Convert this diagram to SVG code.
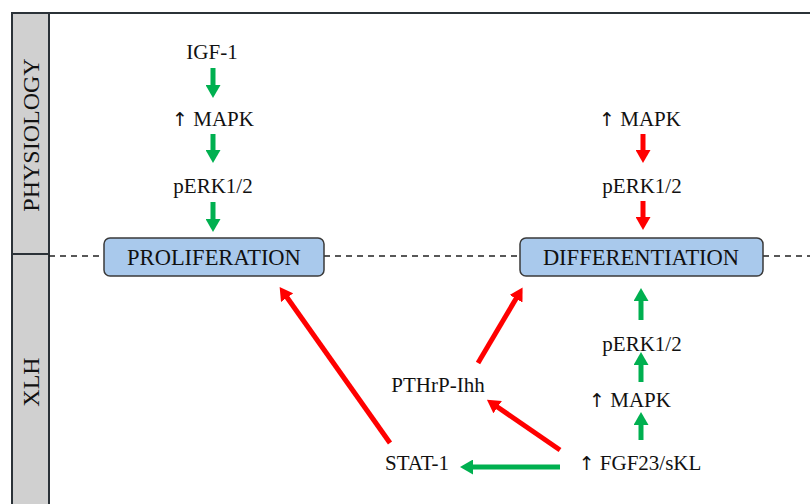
<svg xmlns="http://www.w3.org/2000/svg" width="810" height="504" viewBox="0 0 810 504">
<style>
.t{font-family:"Liberation Serif","Times New Roman",serif;font-size:21px;fill:#111;text-anchor:middle}
.bt{font-family:"Liberation Serif","Times New Roman",serif;font-size:22.5px;fill:#111;text-anchor:middle}
.ar{font-family:"DejaVu Sans",sans-serif;font-size:19px;fill:#111}
.side{font-family:"Liberation Serif","Times New Roman",serif;font-size:24px;fill:#111;text-anchor:middle}
.box{fill:#a9c9ec;stroke:#3a3a3a;stroke-width:1.5}
.g{stroke:#00b050;stroke-width:5;fill:none;marker-end:url(#gh)}
.r{stroke:#ff0000;stroke-width:5;fill:none;marker-end:url(#rh)}
.frame{stroke:#2b3238;stroke-width:2;fill:none}
.dash{stroke:#222;stroke-width:1.5;stroke-dasharray:6 5;fill:none}
</style>
<defs>
<marker id="gh" markerUnits="userSpaceOnUse" viewBox="0 0 13 15" markerWidth="13" markerHeight="15" refX="2" refY="7.5" orient="auto"><path d="M0,0 L13,7.5 L0,15 z" fill="#00b050"/></marker>
<marker id="rh" markerUnits="userSpaceOnUse" viewBox="0 0 13 15" markerWidth="13" markerHeight="15" refX="2" refY="7.5" orient="auto"><path d="M0,0 L13,7.5 L0,15 z" fill="#ff0000"/></marker>
</defs>
<rect width="810" height="504" fill="#fff"/>
<g id="frame">
<rect x="12" y="13" width="37" height="492" fill="#d0d0d0"/>
<path class="frame" d="M12,505 V13 H810 M49,13 V505 M12,254 H49"/>
<path class="dash" d="M49,256 H104 M324,256 H520 M763,256 H810"/>
<text class="side" transform="translate(39,135) rotate(-90)">PHYSIOLOGY</text>
<text class="side" transform="translate(39,382) rotate(-90)">XLH</text>
</g>
<g id="connectors">
<line class="g" x1="213" y1="68" x2="213" y2="87"/>
<line class="g" x1="213" y1="134" x2="213" y2="152"/>
<line class="g" x1="213" y1="202" x2="213" y2="221"/>
<line class="r" x1="643" y1="134" x2="643" y2="152"/>
<line class="r" x1="643" y1="201" x2="643" y2="219"/>
<line class="g" x1="641" y1="320" x2="641" y2="299"/>
<line class="g" x1="641" y1="382" x2="641" y2="363"/>
<line class="g" x1="641" y1="440" x2="641" y2="423"/>
<line class="g" x1="560" y1="467" x2="471" y2="467"/>
<line class="r" x1="560" y1="450" x2="496" y2="406"/>
<line class="r" x1="478" y1="363" x2="517" y2="297"/>
<line class="r" x1="390" y1="443" x2="286" y2="296"/>
</g>
<g id="igf1"><text class="t" x="212" y="59">IGF-1</text></g>
<g id="mapk1"><text class="t" x="213" y="126"><tspan class="ar">↑</tspan> MAPK</text></g>
<g id="perk1"><text class="t" x="213" y="193">pERK1/2</text></g>
<g id="mapk2"><text class="t" x="640" y="126"><tspan class="ar">↑</tspan> MAPK</text></g>
<g id="perk2"><text class="t" x="642" y="193">pERK1/2</text></g>
<g id="proliferation"><rect class="box" x="104" y="238" width="220" height="38" rx="6"/><text class="bt" x="214" y="265">PROLIFERATION</text></g>
<g id="differentiation"><rect class="box" x="520" y="238" width="243" height="38" rx="6"/><text class="bt" x="641" y="265">DIFFERENTIATION</text></g>
<g id="perk3"><text class="t" x="642" y="351">pERK1/2</text></g>
<g id="mapk3"><text class="t" x="630" y="407"><tspan class="ar">↑</tspan> MAPK</text></g>
<g id="fgf23"><text class="t" x="640" y="470"><tspan class="ar">↑</tspan> FGF23/sKL</text></g>
<g id="pthrp"><text class="t" x="438" y="392">PTHrP-Ihh</text></g>
<g id="stat1"><text class="t" x="417" y="470">STAT-1</text></g>
</svg>
